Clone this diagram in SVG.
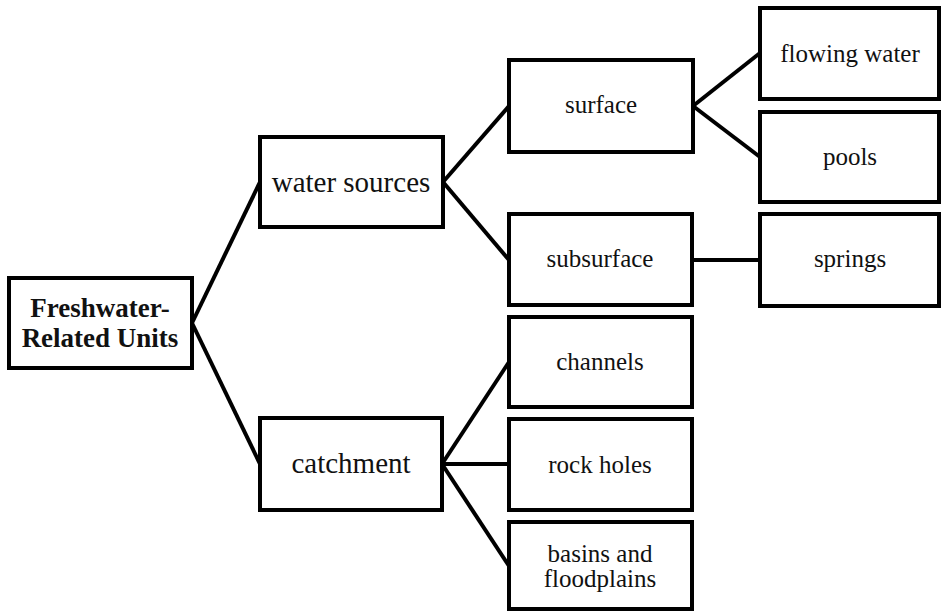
<svg xmlns="http://www.w3.org/2000/svg" width="941" height="611" viewBox="0 0 941 611">
<style>
.box{fill:#ffffff;stroke:#000000;stroke-width:4}
.t{font-family:"Liberation Serif","Times New Roman",serif;fill:#111111;text-anchor:middle}
.s{font-size:25px}
.m{font-size:29px}
.b{font-size:27px;font-weight:bold}
.c{stroke:#000000;stroke-width:4;fill:none}
</style>
<rect width="941" height="611" fill="#ffffff"/>
<g id="connectors">
<line class="c" x1="192" y1="323" x2="260" y2="182"/>
<line class="c" x1="192" y1="323" x2="260" y2="464"/>
<line class="c" x1="443" y1="182" x2="509" y2="106"/>
<line class="c" x1="443" y1="182" x2="509" y2="260"/>
<line class="c" x1="693" y1="106" x2="760" y2="53"/>
<line class="c" x1="693" y1="106" x2="760" y2="157"/>
<line class="c" x1="692" y1="260" x2="760" y2="260"/>
<line class="c" x1="442" y1="464" x2="509" y2="362"/>
<line class="c" x1="442" y1="464" x2="509" y2="464"/>
<line class="c" x1="442" y1="464" x2="509" y2="566"/>
</g>
<g id="root">
<rect class="box" x="9" y="278" width="183" height="90"/>
<text class="t b" x="100" y="317">Freshwater-</text>
<text class="t b" x="100" y="347">Related Units</text>
</g>
<g id="water-sources">
<rect class="box" x="260" y="137" width="183" height="90"/>
<text class="t m" x="351" y="192">water sources</text>
</g>
<g id="catchment">
<rect class="box" x="260" y="418" width="182" height="92"/>
<text class="t m" x="351" y="473">catchment</text>
</g>
<g id="surface">
<rect class="box" x="509" y="60" width="184" height="92"/>
<text class="t s" x="601" y="113">surface</text>
</g>
<g id="subsurface">
<rect class="box" x="509" y="214" width="183" height="91"/>
<text class="t s" x="600" y="267">subsurface</text>
</g>
<g id="flowing-water">
<rect class="box" x="760" y="8" width="179" height="91"/>
<text class="t s" x="850" y="62">flowing water</text>
</g>
<g id="pools">
<rect class="box" x="760" y="112" width="179" height="90"/>
<text class="t s" x="850" y="165">pools</text>
</g>
<g id="springs">
<rect class="box" x="760" y="214" width="179" height="92"/>
<text class="t s" x="850" y="267">springs</text>
</g>
<g id="channels">
<rect class="box" x="509" y="317" width="183" height="90"/>
<text class="t s" x="600" y="370">channels</text>
</g>
<g id="rock-holes">
<rect class="box" x="509" y="419" width="183" height="91"/>
<text class="t s" x="600" y="473">rock holes</text>
</g>
<g id="basins">
<rect class="box" x="509" y="522" width="183" height="87"/>
<text class="t s" x="600" y="562">basins and</text>
<text class="t s" x="600" y="587">floodplains</text>
</g>
</svg>
